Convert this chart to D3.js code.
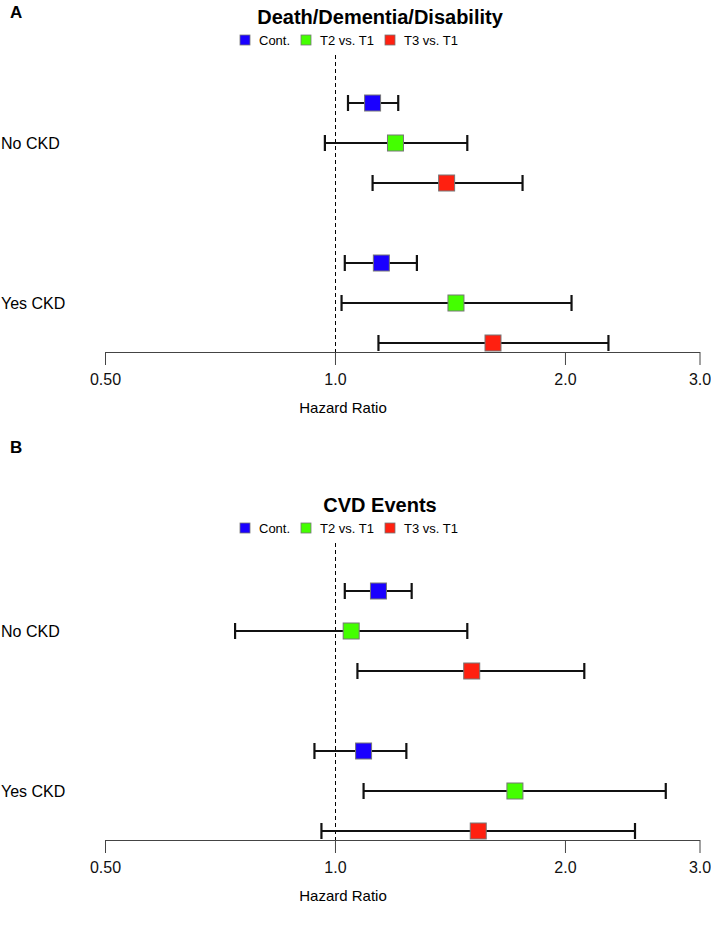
<!DOCTYPE html>
<html>
<head>
<meta charset="utf-8">
<script src="https://cdn.jsdelivr.net/npm/d3@7"></script>
<style>
	body { margin: 0; background: #fff; }
	svg { display: block; font-family: "Liberation Sans", Arial, sans-serif; }
</style>
</head>
<body>
<svg></svg>
<script>
const svgWidth = 711;
const svgHeight = 928;

const panelLetters = ["A", "B"];
const panelTitles = ["Death/Dementia/Disability", "CVD Events"];
const groups = ["No CKD", "Yes CKD"];
const seriesNames = ["Cont.", "T2 vs. T1", "T3 vs. T1"];
const seriesColors = ["#1a00ff", "#44ff00", "#ff2010"];
const tickValues = [0.5, 1.0, 2.0, 3.0];
const tickLabels = ["0.50", "1.0", "2.0", "3.0"];

// [group][series]
const hrA = [[1.12, 1.20, 1.40], [1.15, 1.44, 1.61]];
const loA = [[1.04, 0.97, 1.12], [1.03, 1.02, 1.14]];
const hiA = [[1.21, 1.49, 1.76], [1.28, 2.04, 2.28]];

const hrB = [[1.14, 1.05, 1.51], [1.09, 1.72, 1.54]];
const loB = [[1.03, 0.74, 1.07], [0.94, 1.09, 0.96]];
const hiB = [[1.26, 1.49, 2.12], [1.24, 2.71, 2.47]];

const panelData = [
	{hr: hrA, lo: loA, hi: hiA},
	{hr: hrB, lo: loB, hi: hiB}
];

const svg = d3.select("svg")
	.attr("width", svgWidth)
	.attr("height", svgHeight);

const xScale = d3.scaleLog()
	.domain([0.5, 3])
	.range([105, 699.5]);

const boxSize = 16;
const capHeight = 16;
const panelTops = [0, 488];
const letterY = [18, 453];

function drawPanel(p) {
	let top = panelTops[p];
	let d = panelData[p];
	let g = svg.append("g").attr("transform", `translate(0, ${top})`);

	// row positions: 3 rows per group, 40px apart, groups 160px apart
	let yScale = (gi, si) => 103 + gi * 160 + si * 40;
	let axisY = 352;
	let refX = Math.round(xScale(1)) + 0.5;

	svg.append("text")
		.text(panelLetters[p])
		.attr("x", 10)
		.attr("y", letterY[p])
		.attr("font-size", 17)
		.attr("font-weight", "bold");

	g.append("text")
		.text(panelTitles[p])
		.attr("x", 380)
		.attr("y", 24)
		.attr("font-size", 20)
		.attr("font-weight", "bold")
		.attr("text-anchor", "middle");

	// legend
	let legendX = [240, 301, 385];
	let legend = g.selectAll(".legend")
		.data(seriesNames)
		.enter()
		.append("g")
		.attr("transform", (s, i) => `translate(${legendX[i]}, 40)`);
	legend.append("rect")
		.attr("x", 0)
		.attr("y", -5)
		.attr("width", 10)
		.attr("height", 10)
		.attr("fill", (s, i) => seriesColors[i])
		.attr("stroke", "#777")
		.attr("stroke-width", 0.8);
	legend.append("text")
		.text(s => s)
		.attr("x", 19)
		.attr("y", 5)
		.attr("font-size", 13);

	// reference line
	g.append("line")
		.attr("x1", refX)
		.attr("x2", refX)
		.attr("y1", 55)
		.attr("y2", axisY)
		.attr("stroke", "#000")
		.attr("stroke-width", 1)
		.attr("stroke-dasharray", "4,3");

	// group labels
	g.selectAll(".grp")
		.data(groups)
		.enter()
		.append("text")
		.text(t => t)
		.attr("x", 1)
		.attr("y", (t, gi) => yScale(gi, 1) + 6)
		.attr("font-size", 16);

	let rows = [];
	groups.forEach((gr, gi) => {
		seriesNames.forEach((s, si) => {
			rows.push({gi: gi, si: si, hr: d.hr[gi][si], lo: d.lo[gi][si], hi: d.hi[gi][si]});
		});
	});

	let row = g.selectAll(".row")
		.data(rows)
		.enter()
		.append("g")
		.attr("transform", r => `translate(0, ${yScale(r.gi, r.si)})`);

	row.append("line")
		.attr("x1", r => xScale(r.lo))
		.attr("x2", r => xScale(r.hi))
		.attr("stroke", "#111")
		.attr("stroke-width", 2.2);
	row.append("line")
		.attr("x1", r => xScale(r.lo))
		.attr("x2", r => xScale(r.lo))
		.attr("y1", -capHeight / 2)
		.attr("y2", capHeight / 2)
		.attr("stroke", "#111")
		.attr("stroke-width", 2.2);
	row.append("line")
		.attr("x1", r => xScale(r.hi))
		.attr("x2", r => xScale(r.hi))
		.attr("y1", -capHeight / 2)
		.attr("y2", capHeight / 2)
		.attr("stroke", "#111")
		.attr("stroke-width", 2.2);
	row.append("rect")
		.attr("x", r => xScale(r.hr) - boxSize / 2)
		.attr("y", -boxSize / 2)
		.attr("width", boxSize)
		.attr("height", boxSize)
		.attr("fill", r => seriesColors[r.si])
		.attr("stroke", "#777")
		.attr("stroke-width", 1);

	// x axis
	let xAxis = d3.axisBottom(xScale)
		.tickValues(tickValues)
		.tickFormat((v, i) => tickLabels[i])
		.tickSize(13)
		.tickSizeOuter(0)
		.tickPadding(9);
	let ax = g.append("g")
		.attr("transform", `translate(0, ${axisY})`)
		.call(xAxis);
	ax.select(".domain").attr("stroke", "#444");
	ax.selectAll(".tick line").attr("stroke", "#444");
	ax.selectAll(".tick text")
		.attr("font-size", 16)
		.attr("font-family", "Liberation Sans, Arial, sans-serif")
		.attr("fill", "#111");

	g.append("text")
		.text("Hazard Ratio")
		.attr("x", xScale(1) + 8)
		.attr("y", 413)
		.attr("font-size", 15)
		.attr("text-anchor", "middle");
}

drawPanel(0);
drawPanel(1);
</script>
</body>
</html>
